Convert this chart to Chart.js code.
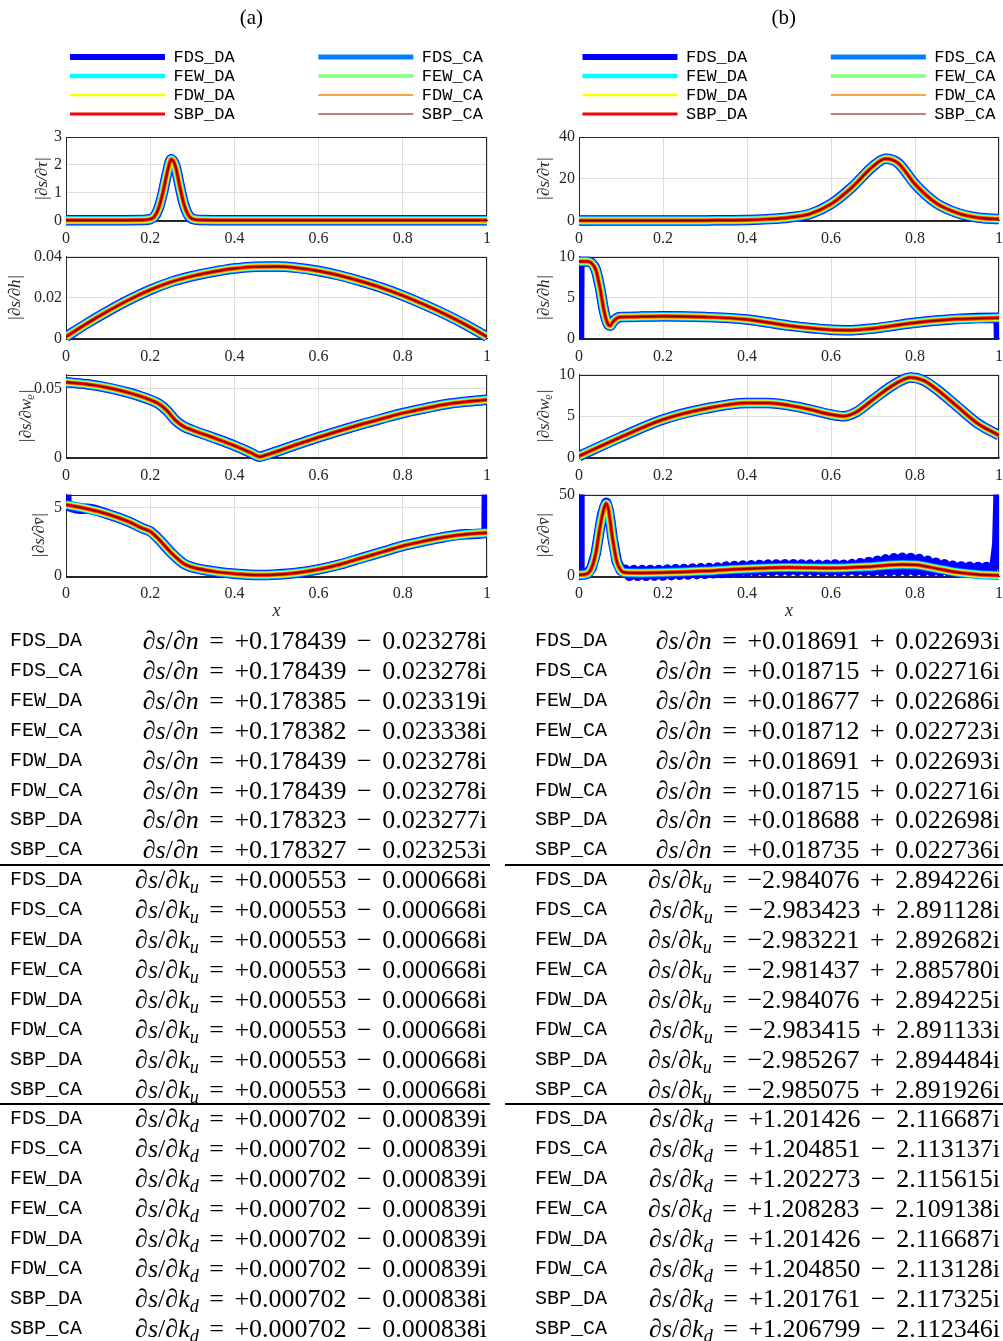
<!DOCTYPE html>
<html>
<head>
<meta charset="utf-8">
<script src="https://cdn.jsdelivr.net/npm/chart.js@4.4.1/dist/chart.umd.min.js"></script>
<style>
  body { margin: 0; background: #fff; width: 1003px; height: 1341px; position: relative; overflow: hidden; }
  canvas { position: absolute; }
  .row { position: absolute; height: 30px; line-height: 30px; white-space: nowrap; }
  .lab { position: absolute; left: 0; top: 0; font-family: 'Liberation Mono', monospace; font-size: 20px; color: #000; }
  .eq { position: absolute; right: 0; top: 0; font-family: 'Liberation Serif', 'DejaVu Serif', serif; font-size: 26px; word-spacing: 4px; color: #000; }
  .eq sub { font-size: 0.7em; vertical-align: -0.25em; line-height: 0; }
  .rule { position: absolute; height: 2px; background: #000; }
</style>
</head>
<body>
<canvas id="a1" width="500" height="256" style="left:0;top:0"></canvas>
<canvas id="a2" width="500" height="131" style="left:0;top:243px"></canvas>
<canvas id="a3" width="500" height="132" style="left:0;top:361px"></canvas>
<canvas id="a4" width="500" height="141" style="left:0;top:481px"></canvas>
<canvas id="b1" width="503" height="256" style="left:500px;top:0"></canvas>
<canvas id="b2" width="503" height="131" style="left:500px;top:243px"></canvas>
<canvas id="b3" width="503" height="132" style="left:500px;top:361px"></canvas>
<canvas id="b4" width="503" height="141" style="left:500px;top:481px"></canvas>
<div id="tables"></div>
<script>
const seriesNames = ['FDS_DA', 'FDS_CA', 'FEW_DA', 'FEW_CA', 'FDW_DA', 'FDW_CA', 'SBP_DA', 'SBP_CA'];
const seriesColors = ['#0000ff', '#0080ff', '#00ffff', '#80ff80', '#ffff00', '#ff8000', '#ff0000', '#800000'];
const bandWidths = [10.5, 9, 7.5, 6.5, 5.5, 4.5, 3, 1.4];
const legendWidths = [6, 5, 4.5, 3.5, 2.5, 1.5, 3, 1];

// (a) |ds/dtau|
const tauA_x = [0, 0.1, 0.18, 0.2, 0.21, 0.22, 0.23, 0.24, 0.25, 0.26, 0.27, 0.28, 0.29, 0.3, 0.32, 0.4, 0.6, 0.8, 1];
const tauA = [0.02, 0.02, 0.03, 0.06, 0.15, 0.45, 1.0, 1.7, 2.2, 1.95, 1.25, 0.6, 0.22, 0.07, 0.03, 0.02, 0.02, 0.02, 0.02];
// (a) |ds/dh|
const hA_x = [0, 0.05, 0.1, 0.15, 0.2, 0.25, 0.3, 0.35, 0.4, 0.45, 0.5, 0.55, 0.6, 0.65, 0.7, 0.75, 0.8, 0.85, 0.9, 0.95, 1];
const hA = [0.001, 0.0075, 0.0135, 0.019, 0.0238, 0.0277, 0.0305, 0.0326, 0.0342, 0.0351, 0.0352, 0.0345, 0.033, 0.0308, 0.028, 0.0248, 0.021, 0.0167, 0.012, 0.0068, 0.001];
// (a) |ds/dw|
const wA_x = [0, 0.05, 0.1, 0.15, 0.2, 0.22, 0.24, 0.26, 0.28, 0.3, 0.35, 0.4, 0.44, 0.46, 0.48, 0.55, 0.6, 0.65, 0.7, 0.75, 0.8, 0.85, 0.9, 0.95, 1];
const wA = [0.0545, 0.053, 0.0505, 0.0468, 0.0418, 0.039, 0.034, 0.027, 0.0225, 0.02, 0.0145, 0.0088, 0.0035, 0.0008, 0.0025, 0.0098, 0.0148, 0.0195, 0.024, 0.0282, 0.0322, 0.0355, 0.0385, 0.0405, 0.0418];
// (a) |ds/dv|
const vA_x = [0, 0.05, 0.1, 0.15, 0.18, 0.2, 0.22, 0.25, 0.28, 0.3, 0.35, 0.4, 0.46, 0.5, 0.55, 0.6, 0.65, 0.7, 0.75, 0.8, 0.85, 0.9, 0.95, 1];
const vA = [5.2, 4.9, 4.5, 3.95, 3.5, 3.25, 2.7, 1.7, 0.9, 0.65, 0.35, 0.18, 0.08, 0.12, 0.25, 0.5, 0.85, 1.3, 1.75, 2.2, 2.55, 2.85, 3.05, 3.15];
const vA_fds_x = [0, 0.001, 0.05, 0.1, 0.15, 0.18, 0.2, 0.22, 0.25, 0.28, 0.3, 0.35, 0.4, 0.46, 0.5, 0.55, 0.6, 0.65, 0.7, 0.75, 0.8, 0.85, 0.9, 0.95, 0.999, 1];
const vA_fds = [8, 5.2, 4.9, 4.5, 3.95, 3.5, 3.25, 2.7, 1.7, 0.9, 0.65, 0.35, 0.18, 0.08, 0.12, 0.25, 0.5, 0.85, 1.3, 1.75, 2.2, 2.55, 2.85, 3.05, 3.15, 8];

// (b) |ds/dtau|
const tauB_x = [0, 0.2, 0.3, 0.4, 0.45, 0.5, 0.55, 0.6, 0.65, 0.7, 0.73, 0.76, 0.8, 0.85, 0.9, 0.95, 1];
const tauB = [0.1, 0.1, 0.2, 0.4, 0.8, 1.6, 3.3, 8.0, 16.0, 26.0, 29.6, 27.5, 17.5, 8.5, 3.8, 1.5, 0.8];
// (b) |ds/dh|
const hB_x = [0, 0.02, 0.03, 0.04, 0.05, 0.06, 0.07, 0.075, 0.08, 0.09, 0.1, 0.15, 0.2, 0.3, 0.4, 0.5, 0.6, 0.65, 0.7, 0.8, 0.9, 1];
const hB = [9.4, 9.4, 9.2, 8.4, 6.2, 3.3, 1.7, 1.6, 2.0, 2.5, 2.65, 2.7, 2.75, 2.65, 2.35, 1.6, 1.1, 1.05, 1.25, 1.95, 2.4, 2.55];
const hB_fds_x = [0, 0.001, 0.02, 0.03, 0.04, 0.05, 0.06, 0.07, 0.075, 0.08, 0.09, 0.1, 0.15, 0.2, 0.3, 0.4, 0.5, 0.6, 0.65, 0.7, 0.8, 0.9, 0.999, 1];
const hB_fds = [0, 9.4, 9.4, 9.2, 8.4, 6.2, 3.3, 1.7, 1.6, 2.0, 2.5, 2.65, 2.7, 2.75, 2.65, 2.35, 1.6, 1.1, 1.05, 1.25, 1.95, 2.4, 2.55, 0];
// (b) |ds/dw|
const wB_x = [0, 0.1, 0.2, 0.3, 0.4, 0.45, 0.5, 0.55, 0.6, 0.63, 0.66, 0.7, 0.75, 0.79, 0.82, 0.85, 0.9, 0.95, 1];
const wB = [0.2, 2.5, 4.6, 5.9, 6.6, 6.6, 6.3, 5.8, 5.2, 5.0, 5.5, 7.0, 8.8, 9.65, 9.3, 8.3, 6.2, 4.1, 2.7];
// (b) |ds/dv|
const vB_x = [0, 0.02, 0.03, 0.04, 0.05, 0.06, 0.065, 0.07, 0.08, 0.09, 0.1, 0.11, 0.15, 0.2, 0.3, 0.4, 0.5, 0.6, 0.7, 0.77, 0.8, 0.85, 0.9, 0.95, 1];
const vB = [0.8, 1.6, 5, 14, 30, 42, 44.5, 41, 23, 9, 3.5, 2.2, 2.0, 2.2, 3.2, 4.6, 5.3, 5.0, 6.0, 7.2, 7.0, 4.8, 2.4, 1.0, 0.5];
const vB_fds_x = [0, 0.001, 0.01, 0.02, 0.03, 0.04, 0.05, 0.055, 0.06, 0.065, 0.07, 0.075, 0.08, 0.09, 0.1,
  0.11, 0.12, 0.13, 0.14, 0.15, 0.16, 0.17, 0.18, 0.19, 0.2, 0.21, 0.22, 0.23, 0.24, 0.25, 0.26, 0.27, 0.28, 0.29, 0.3,
  0.31, 0.32, 0.33, 0.34, 0.35, 0.36, 0.37, 0.38, 0.39, 0.4, 0.41, 0.42, 0.43, 0.44, 0.45, 0.46, 0.47, 0.48, 0.49, 0.5,
  0.51, 0.52, 0.53, 0.54, 0.55, 0.56, 0.57, 0.58, 0.59, 0.6, 0.61, 0.62, 0.63, 0.64, 0.65, 0.66, 0.67, 0.68, 0.69, 0.7,
  0.71, 0.72, 0.73, 0.74, 0.75, 0.76, 0.77, 0.78, 0.79, 0.8, 0.81, 0.82, 0.83, 0.84, 0.85, 0.86, 0.87, 0.88, 0.89, 0.9,
  0.91, 0.92, 0.93, 0.94, 0.95, 0.96, 0.97, 0.98, 0.99, 0.996, 1];
const vB_fds = [60, 0.8, 1.0, 1.6, 5, 14, 30, 37.5, 42, 45, 41, 33, 23, 9, 3.5,
  3.95, 0.25, 3.75, 0.25, 3.75, 0.25, 3.85, 0.35, 3.85, 0.45, 4.05, 0.65, 4.25, 0.85, 4.45, 1.05, 4.65, 1.25, 4.85, 1.45,
  5.05, 1.75, 5.35, 1.95, 5.9, 2.0, 6.2, 2.3, 6.5, 2.6, 6.7, 2.8, 6.9, 3.0, 7.1, 3.1, 7.2, 3.2, 7.3, 3.3,
  7.3, 3.3, 7.2, 3.2, 7.1, 3.1, 7.0, 3.0, 7.0, 3.0, 7.2, 2.9, 7.0, 3.3, 7.4, 3.2, 8.0, 3.1, 8.7, 3.0,
  9.5, 3.0, 10.3, 3.0, 11.0, 3.1, 11.3, 3.2, 11.2, 3.1, 10.5, 2.9, 9.5, 2.8, 8.3, 2.8, 7.3, 2.8, 6.4, 2.8,
  6.0, 2.8, 5.8, 2.9, 5.7, 3.0, 5.7, 3.6, 7, 20, 60];

// text table values
const nA = ['+0.178439 − 0.023278i', '+0.178439 − 0.023278i', '+0.178385 − 0.023319i', '+0.178382 − 0.023338i',
  '+0.178439 − 0.023278i', '+0.178439 − 0.023278i', '+0.178323 − 0.023277i', '+0.178327 − 0.023253i'];
const kuA = ['+0.000553 − 0.000668i', '+0.000553 − 0.000668i', '+0.000553 − 0.000668i', '+0.000553 − 0.000668i',
  '+0.000553 − 0.000668i', '+0.000553 − 0.000668i', '+0.000553 − 0.000668i', '+0.000553 − 0.000668i'];
const kdA = ['+0.000702 − 0.000839i', '+0.000702 − 0.000839i', '+0.000702 − 0.000839i', '+0.000702 − 0.000839i',
  '+0.000702 − 0.000839i', '+0.000702 − 0.000839i', '+0.000702 − 0.000838i', '+0.000702 − 0.000838i'];
const nB = ['+0.018691 + 0.022693i', '+0.018715 + 0.022716i', '+0.018677 + 0.022686i', '+0.018712 + 0.022723i',
  '+0.018691 + 0.022693i', '+0.018715 + 0.022716i', '+0.018688 + 0.022698i', '+0.018735 + 0.022736i'];
const kuB = ['−2.984076 + 2.894226i', '−2.983423 + 2.891128i', '−2.983221 + 2.892682i', '−2.981437 + 2.885780i',
  '−2.984076 + 2.894225i', '−2.983415 + 2.891133i', '−2.985267 + 2.894484i', '−2.985075 + 2.891926i'];
const kdB = ['+1.201426 − 2.116687i', '+1.204851 − 2.113137i', '+1.202273 − 2.115615i', '+1.208283 − 2.109138i',
  '+1.201426 − 2.116687i', '+1.204850 − 2.113128i', '+1.201761 − 2.117325i', '+1.206799 − 2.112346i'];

const serif = "'Liberation Serif', 'DejaVu Serif', 'DejaVu Sans', serif";
const axisColor = '#262626';

// full box around the axes
const framePlugin = {
  id: 'frame',
  beforeDatasetsDraw(chart) {
    const {ctx, chartArea: a} = chart;
    ctx.save();
    ctx.strokeStyle = axisColor;
    ctx.lineWidth = 1;
    ctx.strokeRect(Math.round(a.left) + 0.5, Math.round(a.top) + 0.5, Math.round(a.width) - 1, Math.round(a.height));
    ctx.restore();
  }
};

// a bit of room between the legend and the first plot
const legendGap = {
  id: 'legendGap',
  beforeLayout(chart) {
    const lg = chart.legend;
    if (lg && !lg._gap) {
      const fit = lg.fit;
      lg.fit = function () { fit.call(this); this.height += 4.5; };
      lg._gap = true;
    }
  }
};

function makeDatasets(xs, ys, fdsXs, fdsYs, zigzag) {
  return seriesNames.map((name, i) => {
    const special = i === 0 && fdsXs;
    const px = special ? fdsXs : xs;
    const py = special ? fdsYs : ys;
    const ds = {
      label: name,
      data: px.map((x, k) => ({x: x, y: py[k]})),
      borderColor: seriesColors[i],
      backgroundColor: seriesColors[i],
      borderWidth: bandWidths[i],
      order: seriesNames.length - i,
      clip: special ? {left: 0, top: 0, right: 0, bottom: 6} : {left: 0, top: 6, right: 0, bottom: 6}
    };
    if (special && zigzag) {
      ds.cubicInterpolationMode = 'default';
      ds.tension = 0;
    }
    return ds;
  });
}

const panels = [
  {id: 'a1', xs: tauA_x, ys: tauA, yMax: 3, step: 1, yTitle: '|∂s/∂τ|', tPad: 32.8, yw: 66, first: true, name: '   (a)', right: 13},
  {id: 'a2', xs: hA_x, ys: hA, yMax: 0.04, step: 0.02, yTitle: '|∂s/∂h|', tPad: 5.8, yw: 66, right: 13},
  {id: 'a3', xs: wA_x, ys: wA, yMax: 0.06, step: 0.05, yTitle: '|∂s/∂wᵨ|', tPad: 16.8, yw: 66, right: 13},
  {id: 'a4', xs: vA_x, ys: vA, fx: vA_fds_x, fy: vA_fds, yMax: 5.93, step: 5, yTitle: '|∂s/∂v̄|', tPad: 29.8, yw: 66, last: true, right: 13},
  {id: 'b1', xs: tauB_x, ys: tauB, yMax: 40, step: 20, yTitle: '|∂s/∂τ|', tPad: 34.8, yw: 79, first: true, name: '             (b)', right: 4},
  {id: 'b2', xs: hB_x, ys: hB, fx: hB_fds_x, fy: hB_fds, yMax: 10, step: 5, yTitle: '|∂s/∂h|', tPad: 34.8, yw: 79, right: 4},
  {id: 'b3', xs: wB_x, ys: wB, yMax: 10, step: 5, yTitle: '|∂s/∂wᵨ|', tPad: 34.8, yw: 79, right: 4},
  {id: 'b4', xs: vB_x, ys: vB, fx: vB_fds_x, fy: vB_fds, zig: true, yMax: 50, step: 50, yTitle: '|∂s/∂v̄|', tPad: 34.8, yw: 79, last: true, right: 4}
];

panels.forEach(p => {
  new Chart(document.getElementById(p.id), {
    type: 'line',
    data: {datasets: makeDatasets(p.xs, p.ys, p.fx, p.fy, p.zig)},
    options: {
      responsive: false,
      animation: false,
      events: [],
      layout: {padding: {top: p.first ? 4.6 : 0, right: p.right, bottom: 0, left: 0}},
      elements: {
        point: {radius: 0},
        line: {cubicInterpolationMode: 'monotone', borderJoinStyle: 'round', fill: false}
      },
      plugins: {
        tooltip: {enabled: false},
        title: {
          display: !!p.first,
          text: p.name || '',
          color: '#000',
          font: {family: serif, size: 21, weight: 'normal'},
          padding: {top: 0.8, bottom: 15.9}
        },
        legend: {
          display: !!p.first,
          position: 'top',
          fullSize: false,
          labels: {
            usePointStyle: true,
            pointStyle: 'line',
            pointStyleWidth: 95,
            padding: 2,
            color: '#000',
            font: {family: "'Liberation Mono', monospace", size: 17},
            sort: (a, b) => a.datasetIndex - b.datasetIndex,
            generateLabels: chart => chart.data.datasets.map((ds, i) => ({
              text: i % 2 === 0 ? ds.label + '        ' : ds.label,
              fillStyle: ds.borderColor,
              strokeStyle: ds.borderColor,
              lineWidth: legendWidths[i],
              pointStyle: 'line',
              hidden: false,
              fontColor: '#000',
              datasetIndex: i
            }))
          }
        }
      },
      scales: {
        x: {
          type: 'linear',
          min: 0,
          max: 1,
          afterFit: s => { s.paddingLeft = 0; s.paddingRight = 0; },
          grid: {color: '#dedede', drawTicks: false},
          border: {color: axisColor},
          ticks: {
            stepSize: 0.2,
            padding: 8,
            maxRotation: 0,
            color: axisColor,
            font: {family: serif, size: 16},
            callback: v => String(Number(v.toFixed(1)))
          },
          title: {
            display: !!p.last,
            text: 'x',
            color: axisColor,
            font: {family: serif, size: 18, style: 'italic'},
            padding: {top: -11, bottom: 0}
          }
        },
        y: {
          min: 0,
          max: p.yMax,
          afterFit: s => { s.width = p.yw; },
          grid: {color: '#dedede', drawTicks: false},
          border: {color: axisColor},
          ticks: {
            stepSize: p.step,
            includeBounds: false,
            padding: 4,
            color: axisColor,
            font: {family: serif, size: 16},
            callback: v => String(Number(v.toPrecision(6)))
          },
          title: {
            display: true,
            text: p.yTitle,
            color: axisColor,
            font: {family: serif, size: 17, style: 'italic'},
            padding: {top: p.tPad, bottom: 0}
          }
        }
      }
    },
    plugins: [framePlugin, legendGap]
  });
});

// result tables under the plots
const blocks = [
  {sym: '<i>∂n</i>', a: nA, b: nB},
  {sym: '<i>∂k<sub>u</sub></i>', a: kuA, b: kuB},
  {sym: '<i>∂k<sub>d</sub></i>', a: kdA, b: kdB}
];
const tables = document.getElementById('tables');
let html = '';
blocks.forEach((blk, bi) => {
  seriesNames.forEach((name, r) => {
    const idx = bi * 8 + r;
    const top = 641 + idx * 29.9 - 15;
    const eqA = '<i>∂s</i>/' + blk.sym + ' = ' + blk.a[r];
    const eqB = '<i>∂s</i>/' + blk.sym + ' = ' + blk.b[r];
    html += '<div class="row" style="top:' + top + 'px;left:10px;width:477px"><span class="lab">' + name + '</span><span class="eq">' + eqA + '</span></div>';
    html += '<div class="row" style="top:' + top + 'px;left:535px;width:465px"><span class="lab">' + name + '</span><span class="eq">' + eqB + '</span></div>';
  });
  if (bi < 2) {
    const ry = 641 + (bi * 8 + 7.5) * 29.9 - 1;
    html += '<div class="rule" style="top:' + ry + 'px;left:0;width:490px"></div>';
    html += '<div class="rule" style="top:' + ry + 'px;left:505px;width:498px"></div>';
  }
});
tables.innerHTML = html;
</script>
</body>
</html>
